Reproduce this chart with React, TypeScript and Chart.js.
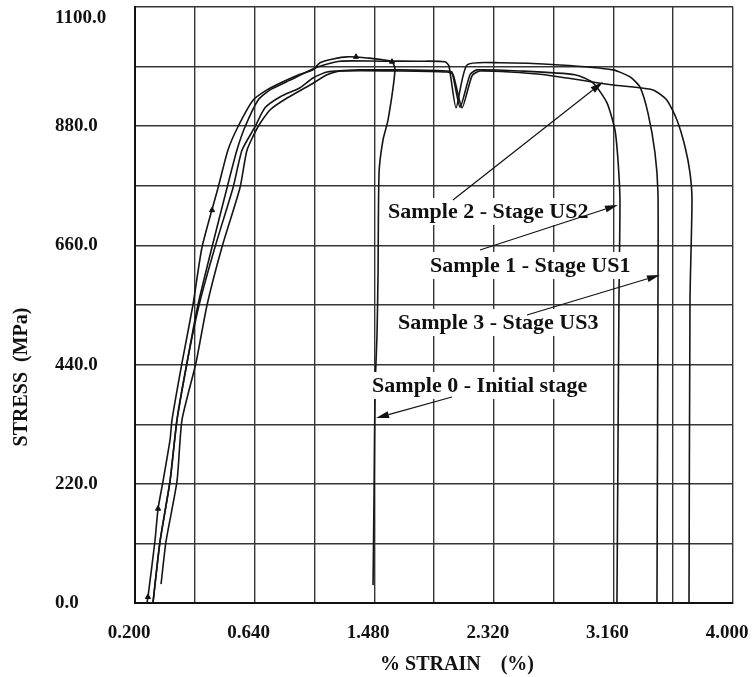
import React, { useEffect, useRef } from "react";
import { Chart, registerables } from "chart.js";

Chart.register(...registerables);

// Axis definition (strain axis runs -0.2 .. 4.0 with grid every 0.42; labels as printed)
const X_MIN = -0.2;
const X_MAX = 4.0;
const X_STEP = 0.42;
const X_TICK_LABELS = ["0.200", "0.640", "1.480", "2.320", "3.160", "4.000"];
const Y_MIN = 0;
const Y_MAX = 1100;
const Y_STEP = 110;
const Y_TICK_LABELS = ["0.0", "220.0", "440.0", "660.0", "880.0", "1100.0"];

// Sample 0 - Initial stage
const sample0X = [-0.116, -0.109, -0.060, -0.038, -0.003, 0.046, 0.060, 0.130, 0.207, 0.271, 0.383, 0.453, 0.523, 0.629, 0.727, 0.839, 0.959, 1.050, 1.099, 1.191, 1.289, 1.429, 1.605, 1.626, 1.577, 1.542, 1.514, 1.507, 1.500, 1.486, 1.479, 1.472];
const sample0Y = [0, 11, 114, 174, 225, 301, 338, 443, 550, 657, 766, 836, 879, 928, 947, 962, 976, 984, 997, 1004, 1008, 1006, 999, 984, 891, 855, 794, 609, 498, 393, 203, 33];

// Sample 3 - Stage US3
const sample3X = [-0.074, -0.024, 0.046, 0.095, 0.165, 0.242, 0.341, 0.446, 0.516, 0.573, 0.664, 0.748, 0.889, 1.078, 1.240, 1.521, 1.802, 1.977, 2.005, 2.055, 2.132, 2.364, 2.785, 3.157, 3.277, 3.347, 3.403, 3.452, 3.473, 3.473, 3.466];
const sample3Y = [0, 114, 225, 338, 443, 550, 657, 766, 836, 879, 928, 947, 965, 989, 1000, 1000, 1000, 999, 991, 914, 993, 997, 993, 984, 971, 952, 904, 831, 757, 559, 0];

// Sample 1 - Stage US1
const sample1X = [-0.074, -0.024, 0.046, 0.095, 0.165, 0.250, 0.362, 0.488, 0.552, 0.643, 0.713, 0.818, 0.959, 1.050, 1.149, 1.380, 1.661, 1.991, 2.026, 2.083, 2.153, 2.202, 2.504, 2.890, 3.017, 3.115, 3.171, 3.192, 3.206, 3.199, 3.185];
const sample1Y = [0, 114, 225, 338, 443, 550, 657, 766, 836, 879, 914, 934, 951, 969, 980, 984, 984, 982, 980, 915, 975, 984, 982, 975, 960, 923, 873, 818, 744, 559, 0];

// Sample 2 - Stage US2
const sample2X = [-0.017, 0.018, 0.095, 0.130, 0.228, 0.306, 0.411, 0.537, 0.587, 0.664, 0.748, 0.868, 1.029, 1.149, 1.240, 1.661, 1.991, 2.033, 2.097, 2.167, 2.223, 2.644, 3.157, 3.438, 3.536, 3.607, 3.663, 3.698, 3.712, 3.698, 3.691];
const sample2Y = [35, 114, 225, 338, 443, 550, 657, 766, 836, 879, 910, 932, 956, 975, 982, 982, 980, 976, 914, 973, 982, 976, 956, 947, 928, 891, 842, 794, 744, 559, 0];

// Triangle markers on the initial-stage curve
const markerX = [-0.109, -0.038, 0.341, 1.352, 1.605];
const markerY = [11, 174, 725, 1008, 999];

// Annotation labels and arrows (data coordinates)
const annoText = ["Sample 2 - Stage US2", "Sample 1 - Stage US1", "Sample 3 - Stage US3", "Sample 0 - Initial stage"];
const annoTextX = [1.577, 1.872, 1.647, 1.465];
const annoTextY = [723.5, 623.8, 518.6, 402.3];
const arrowFromX = [2.033, 2.223, 2.553, 2.026];
const arrowFromY = [743.8, 651.5, 531.5, 380.2];
const arrowToX = [3.087, 3.192, 3.487, 1.493];
const arrowToY = [961.6, 734.6, 605.4, 341.4];

const zip = (xs: number[], ys: number[]) => xs.map((x, i) => ({ x, y: ys[i] }));

const annotationPlugin = {
  id: "annotations",
  afterDraw(chart: any) {
    const { ctx, scales, chartArea } = chart;
    const xs = scales.x;
    const ys = scales.y;
    ctx.save();
    // label boxes + text
    ctx.font = 'bold 22px "Liberation Serif"';
    ctx.textBaseline = "middle";
    ctx.textAlign = "left";
    annoText.forEach((t, i) => {
      const px = xs.getPixelForValue(annoTextX[i]);
      const py = ys.getPixelForValue(annoTextY[i]);
      const w = ctx.measureText(t).width;
      ctx.fillStyle = "#ffffff";
      ctx.fillRect(px - 4, py - 13, w + 8, 27);
      ctx.fillStyle = "#111111";
      ctx.fillText(t, px, py + 1);
    });
    // arrows
    ctx.strokeStyle = "#111111";
    ctx.fillStyle = "#111111";
    ctx.lineWidth = 1.2;
    annoText.forEach((_, i) => {
      const fx = xs.getPixelForValue(arrowFromX[i]);
      const fy = ys.getPixelForValue(arrowFromY[i]);
      const tx = xs.getPixelForValue(arrowToX[i]);
      const ty = ys.getPixelForValue(arrowToY[i]);
      const ang = Math.atan2(ty - fy, tx - fx);
      const len = 13;
      const hw = 3.5;
      const bx = tx - len * Math.cos(ang);
      const by = ty - len * Math.sin(ang);
      ctx.beginPath();
      ctx.moveTo(fx, fy);
      ctx.lineTo(bx, by);
      ctx.stroke();
      ctx.beginPath();
      ctx.moveTo(tx, ty);
      ctx.lineTo(bx + hw * Math.sin(ang), by - hw * Math.cos(ang));
      ctx.lineTo(bx - hw * Math.sin(ang), by + hw * Math.cos(ang));
      ctx.closePath();
      ctx.fill();
    });
    // axis titles
    ctx.font = 'bold 20px "Liberation Serif"';
    ctx.fillStyle = "#111111";
    ctx.textAlign = "center";
    ctx.textBaseline = "middle";
    ctx.fillText("% STRAIN    (%)", chartArea.left + 322, chartArea.bottom + 62);
    ctx.save();
    ctx.translate(chartArea.left - 113, chartArea.top + 370);
    ctx.rotate(-Math.PI / 2);
    ctx.fillText("STRESS  (MPa)", 0, 0);
    ctx.restore();
    ctx.restore();
  },
};

export default function App() {
  const canvasRef = useRef<HTMLCanvasElement | null>(null);

  useEffect(() => {
    const canvas = canvasRef.current;
    if (!canvas) return;
    const lineDs = (label: string, xs: number[], ys: number[]) => ({
      label,
      data: zip(xs, ys),
      showLine: true,
      borderColor: "#151515",
      borderWidth: 1.6,
      pointRadius: 0,
      tension: 0.2,
      fill: false,
    });
    const nY = Math.round((Y_MAX - Y_MIN) / Y_STEP);
    const chart = new Chart(canvas, {
      type: "scatter",
      data: {
        datasets: [
          lineDs("Sample 0 - Initial stage", sample0X, sample0Y),
          lineDs("Sample 1 - Stage US1", sample1X, sample1Y),
          lineDs("Sample 2 - Stage US2", sample2X, sample2Y),
          lineDs("Sample 3 - Stage US3", sample3X, sample3Y),
          {
            label: "markers",
            data: zip(markerX, markerY),
            showLine: false,
            pointStyle: "triangle",
            pointRadius: 3,
            backgroundColor: "#111",
            borderColor: "#111",
            borderWidth: 1,
          } as any,
        ],
      },
      options: {
        animation: false,
        responsive: false,
        layout: { padding: { left: 55, right: 21, top: 7, bottom: 0 } },
        plugins: { legend: { display: false }, tooltip: { enabled: false } },
        scales: {
          x: {
            type: "linear",
            min: X_MIN,
            max: X_MAX,
            afterBuildTicks: (scale: any) => {
              const n = Math.round((X_MAX - X_MIN) / X_STEP);
              scale.ticks = Array.from({ length: n + 1 }, (_, i) => ({ value: X_MIN + i * X_STEP }));
            },
            afterFit: (scale: any) => {
              scale.height = 74;
              scale.paddingLeft = 0;
              scale.paddingRight = 0;
            },
            grid: { color: "#363636", lineWidth: 1.4, drawTicks: false },
            border: { color: "#111", width: 2 },
            ticks: {
              autoSkip: false,
              maxRotation: 0,
              padding: 19,
              labelOffset: -6,
              color: "#111",
              font: { family: "Liberation Serif", size: 19, weight: "bold" },
              callback: (_v: any, i: number) => (i % 2 === 0 ? X_TICK_LABELS[i / 2] : ""),
            },
          },
          y: {
            type: "linear",
            min: Y_MIN,
            max: Y_MAX,
            afterBuildTicks: (scale: any) => {
              scale.ticks = Array.from({ length: nY + 1 }, (_, i) => ({ value: Y_MIN + i * Y_STEP }));
            },
            afterFit: (scale: any) => {
              scale.width = 80;
              scale.paddingTop = 0;
              scale.paddingBottom = 0;
            },
            grid: { color: "#363636", lineWidth: 1.4, drawTicks: false },
            border: { color: "#111", width: 2 },
            ticks: {
              autoSkip: false,
              crossAlign: "far",
              color: "#111",
              font: { family: "Liberation Serif", size: 19, weight: "bold" },
              callback: (_v: any, i: number) => {
                if (i % 2 !== 0) return "";
                const label = Y_TICK_LABELS[i / 2];
                // top label sits just below the frame in the original
                return i === nY ? ["", label] : label;
              },
            },
          },
        },
      },
      plugins: [annotationPlugin],
    } as any);
    return () => chart.destroy();
  }, []);

  return (
    <canvas
      ref={canvasRef}
      width={754}
      height={677}
      style={{ position: "absolute", left: 0, top: 0, width: 754, height: 677, background: "#fff" }}
    />
  );
}
